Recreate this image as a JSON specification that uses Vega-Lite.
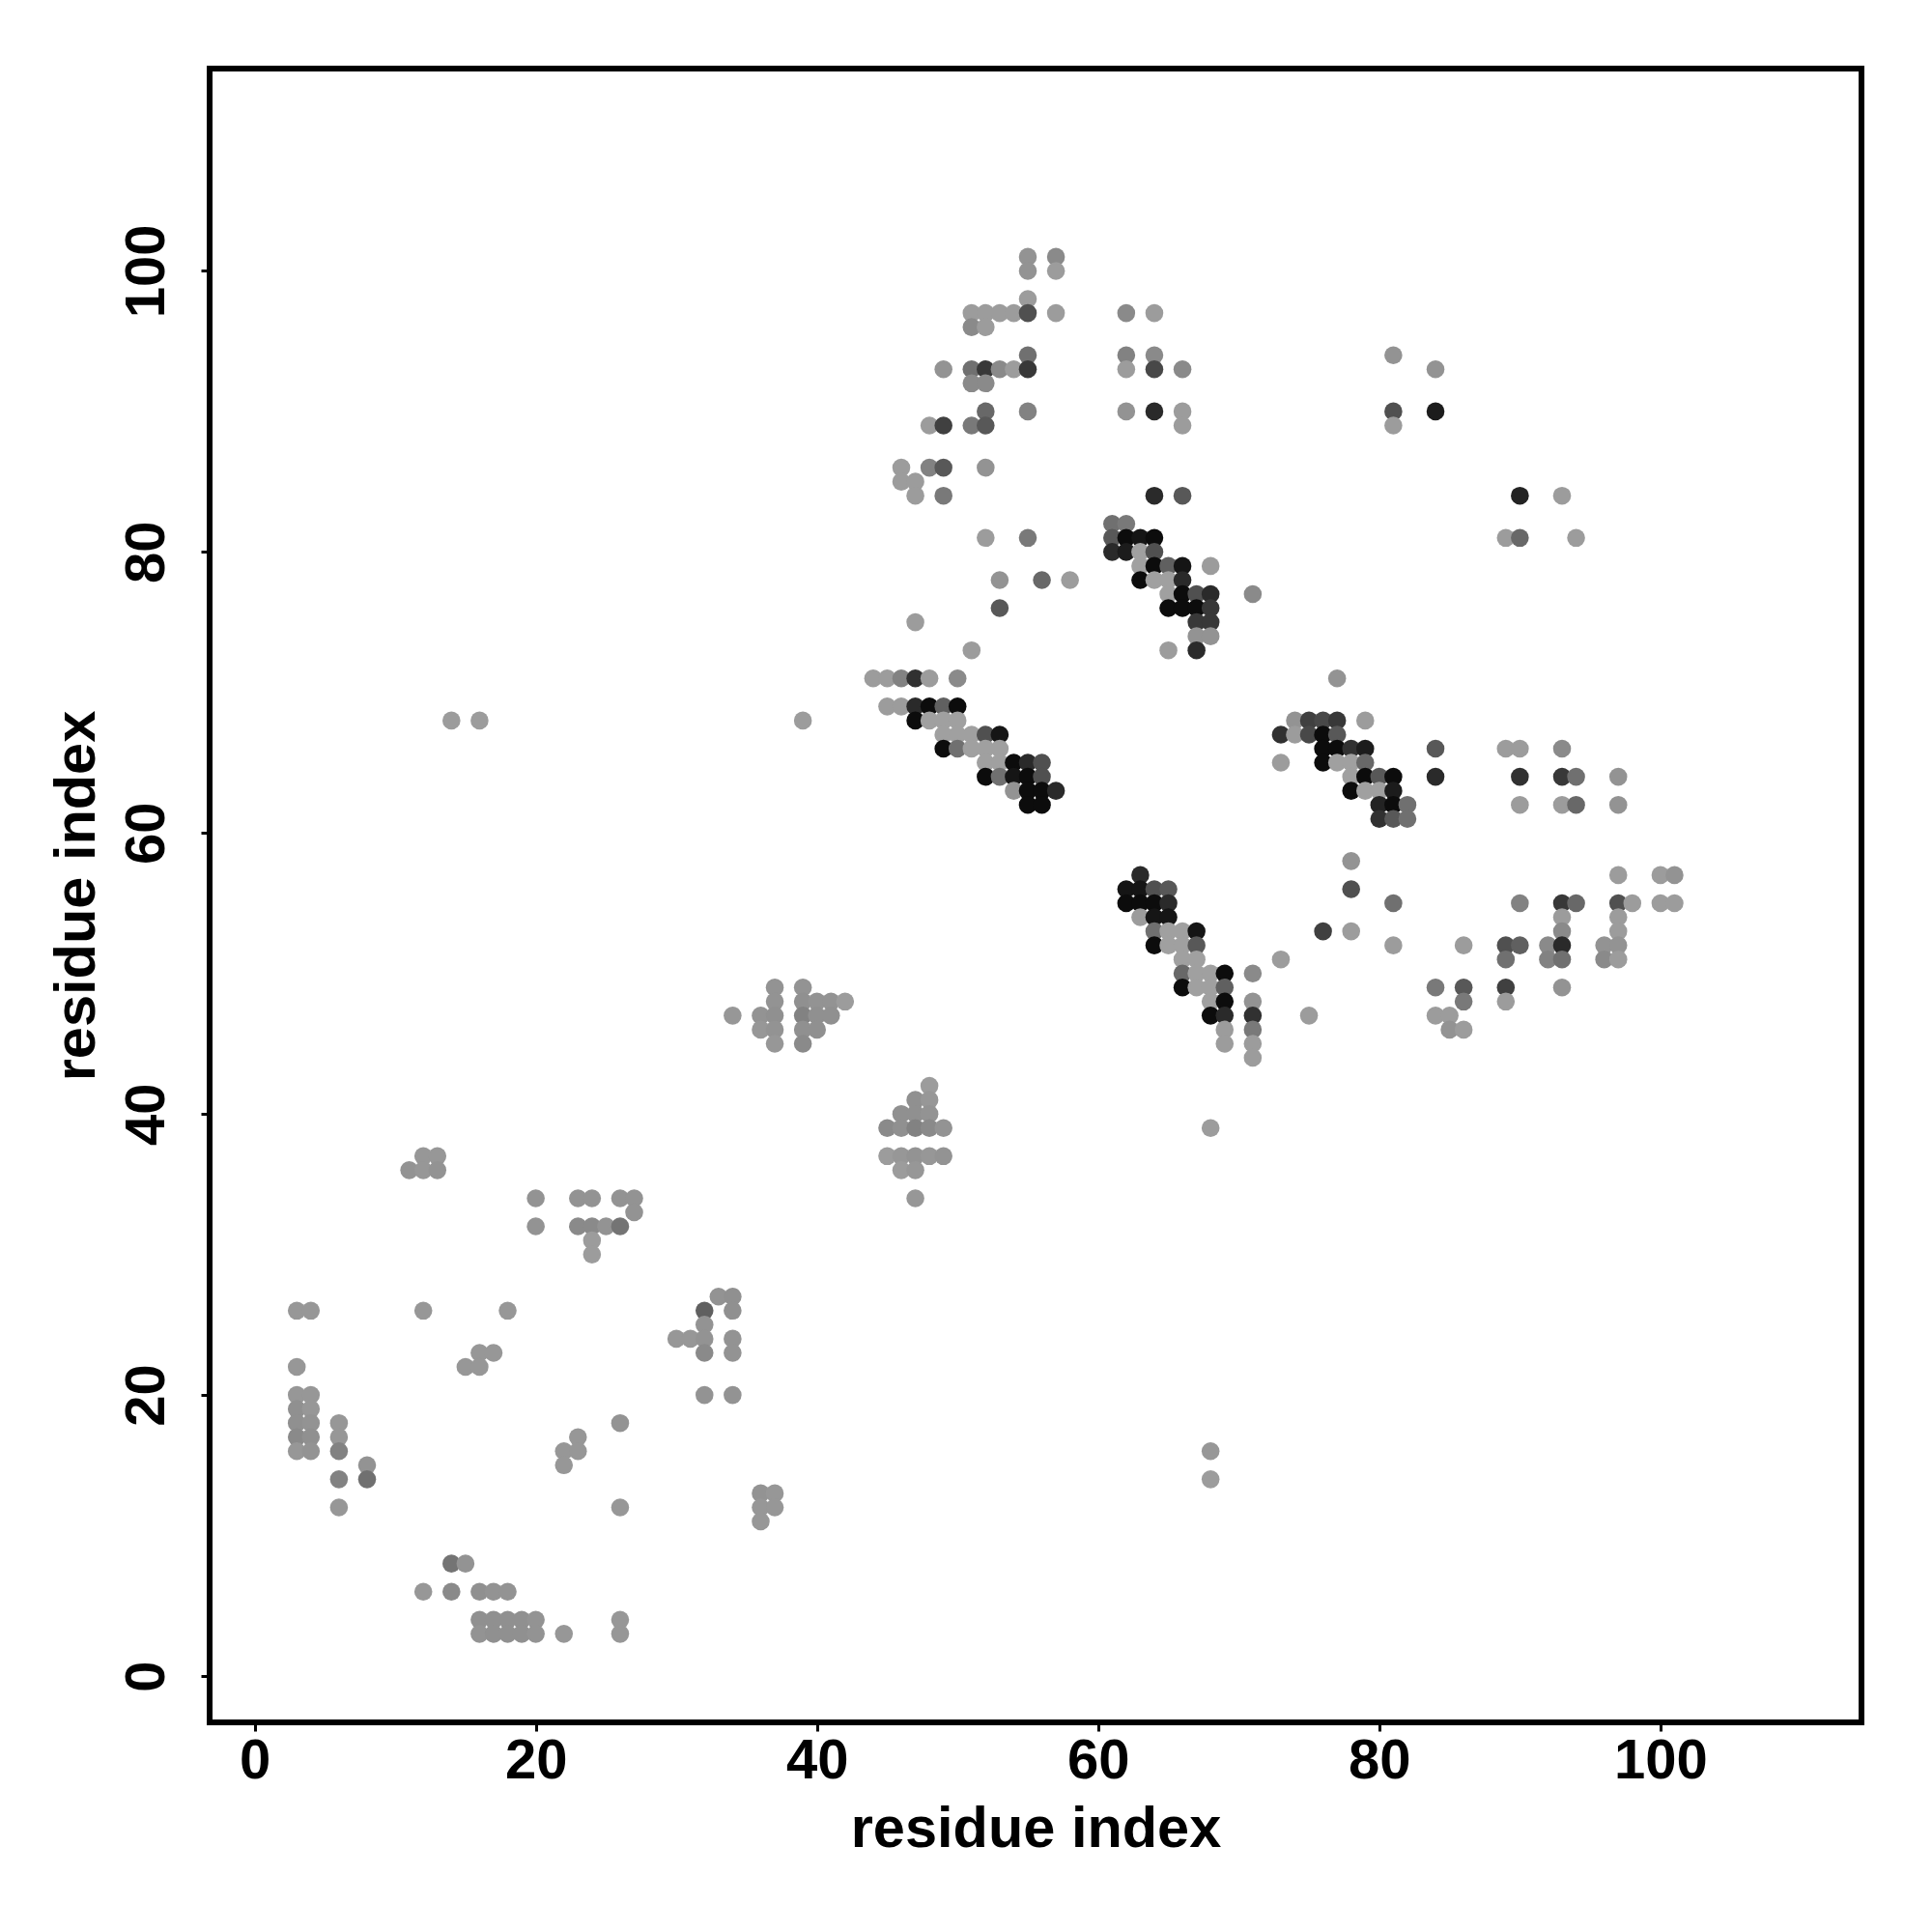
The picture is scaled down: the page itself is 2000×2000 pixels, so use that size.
{"$schema":"https://vega.github.io/schema/vega-lite/v6.json","width":1710,"height":1712,"autosize":{"type":"none"},"padding":{"left":217,"top":71,"right":73,"bottom":217},"background":"white","config":{"view":{"stroke":"black","strokeWidth":6,"fill":"white"},"font":"Liberation Sans"},"data":{"values":[
{"x":51,"y":73,"d":5},{"x":44,"y":71,"d":5},{"x":45,"y":71,"d":5},{"x":46,"y":71,"d":20},{"x":47,"y":71,"d":70},{"x":48,"y":71,"d":5},{"x":50,"y":71,"d":15},
{"x":45,"y":69,"d":5},{"x":46,"y":69,"d":5},{"x":47,"y":69,"d":75},{"x":48,"y":69,"d":95},{"x":49,"y":69,"d":40},{"x":50,"y":69,"d":95},
{"x":47,"y":68,"d":95},{"x":48,"y":68,"d":3},{"x":49,"y":68,"d":3},{"x":50,"y":68,"d":3},
{"x":49,"y":67,"d":3},{"x":50,"y":67,"d":3},{"x":51,"y":67,"d":3},{"x":52,"y":67,"d":50},{"x":53,"y":67,"d":90},
{"x":49,"y":66,"d":95},{"x":50,"y":66,"d":30},{"x":51,"y":66,"d":3},{"x":52,"y":66,"d":3},{"x":53,"y":66,"d":3},
{"x":52,"y":65,"d":3},{"x":53,"y":65,"d":3},{"x":54,"y":65,"d":95},{"x":55,"y":65,"d":75},{"x":56,"y":65,"d":50},
{"x":52,"y":64,"d":95},{"x":53,"y":64,"d":30},{"x":54,"y":64,"d":90},{"x":55,"y":64,"d":95},{"x":56,"y":64,"d":50},
{"x":54,"y":63,"d":10},{"x":55,"y":63,"d":95},{"x":56,"y":63,"d":95},{"x":57,"y":63,"d":75},{"x":55,"y":62,"d":95},{"x":56,"y":62,"d":95},
{"x":64,"y":84,"d":75},{"x":66,"y":84,"d":45},{"x":61,"y":82,"d":30},{"x":62,"y":82,"d":25},
{"x":61,"y":81,"d":45},{"x":62,"y":81,"d":95},{"x":63,"y":81,"d":90},{"x":64,"y":81,"d":95},
{"x":61,"y":80,"d":75},{"x":62,"y":80,"d":85},{"x":63,"y":80,"d":3},{"x":64,"y":80,"d":50},
{"x":63,"y":79,"d":3},{"x":64,"y":79,"d":95},{"x":65,"y":79,"d":40},{"x":66,"y":79,"d":90},{"x":68,"y":79,"d":5},
{"x":63,"y":78,"d":95},{"x":64,"y":78,"d":3},{"x":65,"y":78,"d":3},{"x":66,"y":78,"d":75},
{"x":65,"y":77,"d":3},{"x":66,"y":77,"d":95},{"x":67,"y":77,"d":50},{"x":68,"y":77,"d":75},{"x":71,"y":77,"d":15},
{"x":65,"y":76,"d":95},{"x":66,"y":76,"d":95},{"x":67,"y":76,"d":95},{"x":68,"y":76,"d":65},
{"x":67,"y":75,"d":65},{"x":68,"y":75,"d":65},{"x":67,"y":74,"d":10},{"x":68,"y":74,"d":10},{"x":65,"y":73,"d":5},{"x":67,"y":73,"d":75},
{"x":77,"y":71,"d":10},{"x":74,"y":68,"d":10},{"x":75,"y":68,"d":60},{"x":76,"y":68,"d":55},{"x":77,"y":68,"d":65},{"x":79,"y":68,"d":5},
{"x":73,"y":67,"d":70},{"x":74,"y":67,"d":5},{"x":75,"y":67,"d":55},{"x":76,"y":67,"d":95},{"x":77,"y":67,"d":45},
{"x":76,"y":66,"d":95},{"x":77,"y":66,"d":95},{"x":78,"y":66,"d":70},{"x":79,"y":66,"d":85},{"x":84,"y":66,"d":45},
{"x":73,"y":65,"d":5},{"x":76,"y":65,"d":95},{"x":77,"y":65,"d":3},{"x":78,"y":65,"d":3},{"x":79,"y":65,"d":35},
{"x":78,"y":64,"d":3},{"x":79,"y":64,"d":95},{"x":80,"y":64,"d":45},{"x":81,"y":64,"d":95},{"x":84,"y":64,"d":75},
{"x":78,"y":63,"d":95},{"x":79,"y":63,"d":3},{"x":80,"y":63,"d":3},{"x":81,"y":63,"d":85},
{"x":80,"y":62,"d":80},{"x":81,"y":62,"d":95},{"x":82,"y":62,"d":30},{"x":80,"y":61,"d":70},{"x":81,"y":61,"d":45},{"x":82,"y":61,"d":30},
{"x":63,"y":57,"d":75},{"x":62,"y":56,"d":90},{"x":63,"y":56,"d":90},{"x":64,"y":56,"d":50},{"x":65,"y":56,"d":45},
{"x":62,"y":55,"d":95},{"x":63,"y":55,"d":95},{"x":64,"y":55,"d":95},{"x":65,"y":55,"d":75},
{"x":63,"y":54,"d":5},{"x":64,"y":54,"d":90},{"x":65,"y":54,"d":90},
{"x":64,"y":53,"d":30},{"x":65,"y":53,"d":3},{"x":66,"y":53,"d":3},{"x":67,"y":53,"d":90},
{"x":64,"y":52,"d":95},{"x":65,"y":52,"d":3},{"x":66,"y":52,"d":3},{"x":67,"y":52,"d":45},
{"x":66,"y":51,"d":3},{"x":67,"y":51,"d":3},{"x":73,"y":51,"d":5},
{"x":66,"y":50,"d":35},{"x":67,"y":50,"d":3},{"x":68,"y":50,"d":3},{"x":69,"y":50,"d":95},{"x":71,"y":50,"d":15},
{"x":66,"y":49,"d":95},{"x":67,"y":49,"d":3},{"x":68,"y":49,"d":3},{"x":69,"y":49,"d":40},
{"x":68,"y":48,"d":3},{"x":69,"y":48,"d":95},{"x":71,"y":48,"d":10},
{"x":68,"y":47,"d":95},{"x":69,"y":47,"d":75},{"x":71,"y":47,"d":70},
{"x":69,"y":46,"d":5},{"x":71,"y":46,"d":25},{"x":69,"y":45,"d":5},{"x":71,"y":45,"d":5},{"x":71,"y":44,"d":5},
{"x":55,"y":101,"d":10},{"x":57,"y":101,"d":15},{"x":55,"y":100,"d":10},{"x":57,"y":100,"d":5},{"x":55,"y":98,"d":5},
{"x":51,"y":97,"d":5},{"x":52,"y":97,"d":5},{"x":53,"y":97,"d":5},{"x":54,"y":97,"d":5},{"x":55,"y":97,"d":50},{"x":57,"y":97,"d":5},
{"x":51,"y":96,"d":15},{"x":52,"y":96,"d":5},{"x":55,"y":94,"d":30},
{"x":49,"y":93,"d":10},{"x":51,"y":93,"d":30},{"x":52,"y":93,"d":65},{"x":53,"y":93,"d":15},{"x":54,"y":93,"d":5},{"x":55,"y":93,"d":65},
{"x":51,"y":92,"d":15},{"x":52,"y":92,"d":15},{"x":52,"y":90,"d":35},{"x":55,"y":90,"d":20},
{"x":48,"y":89,"d":5},{"x":49,"y":89,"d":60},{"x":51,"y":89,"d":25},{"x":52,"y":89,"d":45},
{"x":46,"y":86,"d":5},{"x":48,"y":86,"d":20},{"x":49,"y":86,"d":45},{"x":52,"y":86,"d":10},
{"x":46,"y":85,"d":5},{"x":47,"y":85,"d":5},{"x":47,"y":84,"d":5},{"x":49,"y":84,"d":25},
{"x":37,"y":49,"d":10},{"x":39,"y":49,"d":10},{"x":37,"y":48,"d":10},{"x":39,"y":48,"d":12},{"x":40,"y":48,"d":10},{"x":41,"y":48,"d":10},{"x":42,"y":48,"d":5},
{"x":34,"y":47,"d":8},{"x":36,"y":47,"d":10},{"x":37,"y":47,"d":12},{"x":39,"y":47,"d":20},{"x":40,"y":47,"d":12},{"x":41,"y":47,"d":12},
{"x":36,"y":46,"d":8},{"x":37,"y":46,"d":10},{"x":39,"y":46,"d":12},{"x":40,"y":46,"d":12},{"x":37,"y":45,"d":8},{"x":39,"y":45,"d":15},
{"x":48,"y":42,"d":5},{"x":47,"y":41,"d":12},{"x":48,"y":41,"d":8},{"x":46,"y":40,"d":12},{"x":47,"y":40,"d":12},{"x":48,"y":40,"d":10},
{"x":45,"y":39,"d":15},{"x":46,"y":39,"d":12},{"x":47,"y":39,"d":20},{"x":48,"y":39,"d":15},{"x":49,"y":39,"d":10},
{"x":45,"y":37,"d":5},{"x":46,"y":37,"d":8},{"x":47,"y":37,"d":10},{"x":48,"y":37,"d":8},{"x":49,"y":37,"d":10},{"x":46,"y":36,"d":5},{"x":47,"y":36,"d":8},{"x":47,"y":34,"d":8},
{"x":78,"y":58,"d":10},{"x":97,"y":57,"d":5},{"x":100,"y":57,"d":5},{"x":101,"y":57,"d":10},{"x":78,"y":56,"d":50},
{"x":81,"y":55,"d":30},{"x":90,"y":55,"d":20},{"x":93,"y":55,"d":65},{"x":94,"y":55,"d":35},{"x":97,"y":55,"d":50},{"x":98,"y":55,"d":5},{"x":100,"y":55,"d":5},{"x":101,"y":55,"d":5},
{"x":93,"y":54,"d":5},{"x":97,"y":54,"d":5},{"x":76,"y":53,"d":60},{"x":78,"y":53,"d":5},{"x":93,"y":53,"d":15},{"x":97,"y":53,"d":5},
{"x":81,"y":52,"d":5},{"x":86,"y":52,"d":5},{"x":89,"y":52,"d":50},{"x":90,"y":52,"d":40},{"x":92,"y":52,"d":15},{"x":93,"y":52,"d":75},{"x":96,"y":52,"d":10},{"x":97,"y":52,"d":10},
{"x":89,"y":51,"d":30},{"x":92,"y":51,"d":20},{"x":93,"y":51,"d":30},{"x":96,"y":51,"d":15},{"x":97,"y":51,"d":5},
{"x":84,"y":49,"d":25},{"x":86,"y":49,"d":45},{"x":89,"y":49,"d":60},{"x":93,"y":49,"d":10},{"x":86,"y":48,"d":25},{"x":89,"y":48,"d":5},
{"x":75,"y":47,"d":5},{"x":84,"y":47,"d":5},{"x":85,"y":47,"d":5},{"x":85,"y":46,"d":10},{"x":86,"y":46,"d":5},
{"x":3,"y":26,"d":8},{"x":4,"y":26,"d":8},{"x":12,"y":26,"d":8},{"x":18,"y":26,"d":8},{"x":3,"y":22,"d":8},
{"x":3,"y":20,"d":8},{"x":4,"y":20,"d":8},{"x":3,"y":19,"d":12},{"x":4,"y":19,"d":8},{"x":3,"y":18,"d":12},{"x":4,"y":18,"d":10},{"x":6,"y":18,"d":8},
{"x":3,"y":17,"d":15},{"x":4,"y":17,"d":12},{"x":6,"y":17,"d":8},{"x":3,"y":16,"d":8},{"x":4,"y":16,"d":10},{"x":6,"y":16,"d":20},
{"x":8,"y":15,"d":10},{"x":6,"y":14,"d":20},{"x":8,"y":14,"d":30},{"x":6,"y":12,"d":8},
{"x":14,"y":68,"d":5},{"x":16,"y":68,"d":5},{"x":39,"y":68,"d":5},{"x":47,"y":75,"d":5},
{"x":52,"y":81,"d":5},{"x":55,"y":81,"d":25},{"x":53,"y":78,"d":10},{"x":56,"y":78,"d":35},{"x":58,"y":78,"d":5},{"x":53,"y":76,"d":45},
{"x":62,"y":97,"d":15},{"x":64,"y":97,"d":5},{"x":62,"y":94,"d":20},{"x":64,"y":94,"d":15},{"x":62,"y":93,"d":5},{"x":64,"y":93,"d":55},{"x":66,"y":93,"d":15},
{"x":62,"y":90,"d":10},{"x":64,"y":90,"d":75},{"x":66,"y":90,"d":5},{"x":66,"y":89,"d":5},
{"x":81,"y":94,"d":10},{"x":84,"y":93,"d":10},{"x":81,"y":90,"d":50},{"x":84,"y":90,"d":85},{"x":81,"y":89,"d":5},
{"x":90,"y":84,"d":80},{"x":93,"y":84,"d":5},{"x":89,"y":81,"d":5},{"x":90,"y":81,"d":35},{"x":94,"y":81,"d":5},
{"x":68,"y":39,"d":5},{"x":68,"y":16,"d":8},{"x":68,"y":14,"d":5},
{"x":89,"y":66,"d":5},{"x":90,"y":66,"d":5},{"x":93,"y":66,"d":15},{"x":90,"y":64,"d":70},{"x":93,"y":64,"d":65},{"x":94,"y":64,"d":30},{"x":97,"y":64,"d":10},
{"x":90,"y":62,"d":5},{"x":93,"y":62,"d":5},{"x":94,"y":62,"d":35},{"x":97,"y":62,"d":10},
{"x":12,"y":37,"d":8},{"x":13,"y":37,"d":8},{"x":11,"y":36,"d":10},{"x":12,"y":36,"d":8},{"x":13,"y":36,"d":10},
{"x":20,"y":34,"d":10},{"x":23,"y":34,"d":10},{"x":24,"y":34,"d":10},{"x":26,"y":34,"d":10},{"x":27,"y":34,"d":10},{"x":27,"y":33,"d":10},
{"x":20,"y":32,"d":10},{"x":23,"y":32,"d":15},{"x":24,"y":32,"d":15},{"x":25,"y":32,"d":10},{"x":26,"y":32,"d":28},{"x":24,"y":31,"d":5},{"x":24,"y":30,"d":5},
{"x":33,"y":27,"d":10},{"x":34,"y":27,"d":12},{"x":32,"y":26,"d":40},{"x":34,"y":26,"d":12},{"x":32,"y":25,"d":10},
{"x":30,"y":24,"d":8},{"x":31,"y":24,"d":8},{"x":32,"y":24,"d":10},{"x":34,"y":24,"d":10},{"x":32,"y":23,"d":15},{"x":34,"y":23,"d":10},{"x":32,"y":20,"d":10},{"x":34,"y":20,"d":10},
{"x":16,"y":23,"d":8},{"x":17,"y":23,"d":8},{"x":15,"y":22,"d":8},{"x":16,"y":22,"d":8},
{"x":26,"y":18,"d":10},{"x":23,"y":17,"d":8},{"x":22,"y":16,"d":8},{"x":23,"y":16,"d":8},{"x":22,"y":15,"d":8},
{"x":36,"y":13,"d":10},{"x":37,"y":13,"d":8},{"x":26,"y":12,"d":8},{"x":36,"y":12,"d":8},{"x":37,"y":12,"d":8},{"x":36,"y":11,"d":8},
{"x":14,"y":8,"d":28},{"x":15,"y":8,"d":10},{"x":12,"y":6,"d":8},{"x":14,"y":6,"d":15},{"x":16,"y":6,"d":12},{"x":17,"y":6,"d":10},{"x":18,"y":6,"d":10},
{"x":16,"y":4,"d":12},{"x":17,"y":4,"d":12},{"x":18,"y":4,"d":12},{"x":19,"y":4,"d":12},{"x":20,"y":4,"d":10},{"x":26,"y":4,"d":8},
{"x":16,"y":3,"d":10},{"x":17,"y":3,"d":12},{"x":18,"y":3,"d":12},{"x":19,"y":3,"d":12},{"x":20,"y":3,"d":10},{"x":22,"y":3,"d":8},{"x":26,"y":3,"d":8}
]},
"mark":{"type":"point","filled":true,"opacity":1,"size":345},
"encoding":{
"x":{"field":"x","type":"quantitative","scale":{"domain":[-3.2,114.3],"nice":false,"zero":false},"axis":{"title":"residue index","values":[0,20,40,60,80,100],"grid":false,"domain":false,"labelFont":"Liberation Sans","labelFontWeight":"bold","labelFontSize":58,"labelColor":"black","titleFont":"Liberation Sans","titleFontWeight":"bold","titleFontSize":59.5,"titleColor":"black","tickColor":"black","tickWidth":3,"tickSize":9,"labelPadding":2,"titlePadding":12}},
"y":{"field":"y","type":"quantitative","scale":{"domain":[-3.3,114.4],"nice":false,"zero":false},"axis":{"title":"residue index","values":[0,20,40,60,80,100],"grid":false,"domain":false,"labelAngle":-90,"labelFont":"Liberation Sans","labelFontWeight":"bold","labelFontSize":58,"labelColor":"black","titleFont":"Liberation Sans","titleFontWeight":"bold","titleFontSize":59.5,"titleColor":"black","tickColor":"black","tickWidth":3,"tickSize":9,"labelPadding":27,"titlePadding":14}},
"color":{"field":"d","type":"quantitative","legend":null,"scale":{"domain":[0,100],"range":["#a5a5a5","#000000"]}}
}}
